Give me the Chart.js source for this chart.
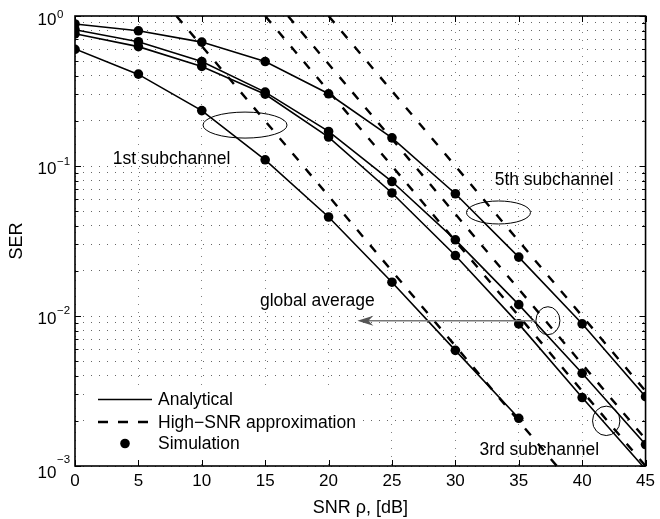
<!DOCTYPE html>
<html>
<head>
<meta charset="utf-8">
<script src="https://cdn.jsdelivr.net/npm/chart.js@4.4.1/dist/chart.umd.min.js"></script>
<style>
  html, body { margin: 0; padding: 0; background: #fff; }
  #wrap { width: 660px; height: 519px; }
</style>
</head>
<body>
<div id="wrap"><canvas id="serChart" width="660" height="519"></canvas></div>
<script>
"use strict";

// ── Data ──────────────────────────────────────────────────
const snrDb = [0, 5, 10, 15, 20, 25, 30, 35, 40, 45];

// analytical SER curves (on the 5 dB grid)
const ser1st    = [0.603, 0.408, 0.234, 0.110, 0.0457, 0.0168, 0.0059, 0.00208];
const ser3rd    = [0.761, 0.625, 0.461, 0.301, 0.156, 0.0661, 0.0253, 0.00886, 0.00286, 0.00095];
const serGlobal = [0.810, 0.674, 0.497, 0.311, 0.170, 0.0788, 0.0322, 0.0119, 0.00415, 0.00139];
const ser5th    = [0.885, 0.797, 0.670, 0.497, 0.303, 0.154, 0.0653, 0.0247, 0.00887, 0.0029];

// simulated points (only the ones inside the axes)
const sim1st    = [0.60, 0.41, 0.234, 0.110, 0.0457, 0.0168, 0.0059, 0.00208];
const sim3rd    = [0.76, 0.625, 0.461, 0.301, 0.156, 0.0661, 0.0253, 0.00886, 0.00286];
const simGlobal = [0.81, 0.674, 0.497, 0.311, 0.170, 0.0788, 0.0322, 0.0119, 0.00415, 0.00139];
const sim5th    = [0.885, 0.797, 0.670, 0.497, 0.303, 0.154, 0.0653, 0.0247, 0.00887, 0.0029];

// high-SNR approximations: straight lines, end points where they leave the axes
const approxSnr1st    = [8, 38];
const approxSer1st    = [1, 0.001];
const approxSnr3rd    = [15, 45];
const approxSer3rd    = [1, 0.001];
const approxSnrGlobal = [16.8, 45];
const approxSerGlobal = [1, 0.00151];
const approxSnr5th    = [20, 45];
const approxSer5th    = [1, 0.00316];

// ticks
const xTicks      = [0, 5, 10, 15, 20, 25, 30, 35, 40, 45];
const yMajorTicks = [0.001, 0.01, 0.1, 1];
const yExponents  = ["\u22123", "\u22122", "\u22121", "0"];
const yMinorMult  = [2, 3, 4, 5, 6, 7, 8, 9];

const legendLabels = ["Analytical", "High\u2212SNR approximation", "Simulation"];

// ── Helpers ───────────────────────────────────────────────
const FONT = "'Liberation Sans', Arial, Helvetica, sans-serif";
const pts = (xs, ys) => ys.map((v, i) => ({ x: xs[i], y: v }));

const yTickValues = [];
yMajorTicks.forEach((m, i) => {
  yTickValues.push(m);
  if (i < yMajorTicks.length - 1) yMinorMult.forEach((k) => yTickValues.push(m * k));
});

const solid = (data) => ({
  type: "line", data, label: "Analytical",
  borderColor: "#000", borderWidth: 1.6, pointRadius: 0, fill: false, tension: 0,
});
const dashed = (data) => ({
  type: "line", data, label: "High-SNR approximation",
  borderColor: "#000", borderWidth: 2.4, borderDash: [9, 11], pointRadius: 0, fill: false,
});
const dots = (data) => ({
  type: "scatter", data, label: "Simulation",
  backgroundColor: "#000", borderColor: "#000", pointRadius: 4.8, borderWidth: 0,
});

// ── Annotations (data coords for anchors, px for radii) ──
const notes = [
  { text: "1st subchannel", x: 2.97, y: 0.1034 },
  { text: "5th subchannel", x: 33.1, y: 0.0749 },
  { text: "global average", x: 14.59, y: 0.01165 },
  { text: "3rd subchannel", x: 31.9, y: 0.00118 },
];
const rings = [
  { x: 13.41, y: 0.1874, rx: 42, ry: 13 },
  { x: 33.4, y: 0.0490, rx: 32, ry: 11.5 },
  { x: 37.3, y: 0.0093, rx: 12, ry: 14 },
  { x: 41.9, y: 0.0020, rx: 13.7, ry: 14.7 },
];
const arrow = { from: 36.3, to: 22.27, y: 0.0093 };

// ── Plugins ───────────────────────────────────────────────
const frameTicks = {
  id: "frameTicks",
  afterDatasetsDraw(chart) {
    const { ctx, chartArea: a, scales: { x, y } } = chart;
    ctx.save();
    ctx.strokeStyle = "#000";
    ctx.lineWidth = 1;
    ctx.beginPath();
    x.ticks.forEach((t) => {
      const px = Math.round(x.getPixelForValue(t.value)) + 0.5;
      ctx.moveTo(px, a.bottom); ctx.lineTo(px, a.bottom - 6);
      ctx.moveTo(px, a.top);    ctx.lineTo(px, a.top + 6);
    });
    y.ticks.forEach((t) => {
      const py = Math.round(y.getPixelForValue(t.value)) + 0.5;
      const major = yMajorTicks.some((m) => Math.abs(m - t.value) < m * 1e-6);
      const len = major ? 6 : 3.5;
      ctx.moveTo(a.left, py);  ctx.lineTo(a.left + len, py);
      ctx.moveTo(a.right, py); ctx.lineTo(a.right - len, py);
    });
    ctx.stroke();
    ctx.lineWidth = 1.6;
    ctx.strokeRect(a.left, a.top, a.right - a.left, a.bottom - a.top);
    ctx.restore();
  },
};

// y labels as 10^n with a raised exponent
const tenLabels = {
  id: "tenLabels",
  afterDraw(chart) {
    const { ctx, chartArea: a, scales: { y } } = chart;
    const baseNudge = [12, 7.5, 7.5, 8.5];
    const expNudge  = [-2.7, -2.2, -0.7, 2.3];
    ctx.save();
    ctx.fillStyle = "#000";
    ctx.textAlign = "left";
    ctx.textBaseline = "alphabetic";
    yMajorTicks.forEach((v, i) => {
      const py = y.getPixelForValue(v);
      const x0 = a.left - 37.5;
      ctx.font = "17px " + FONT;
      ctx.fillText("10", x0, py + baseNudge[i]);
      const w = ctx.measureText("10").width;
      ctx.font = "11.5px " + FONT;
      ctx.fillText(yExponents[i], x0 + w + 0.5, py + expNudge[i]);
    });
    ctx.restore();
  },
};

const notesPlugin = {
  id: "notes",
  afterDraw(chart) {
    const { ctx, chartArea: a, scales: { x, y } } = chart;
    ctx.save();
    ctx.fillStyle = "#000";
    ctx.strokeStyle = "#000";
    ctx.font = "17.5px " + FONT;
    ctx.textAlign = "left";
    ctx.textBaseline = "alphabetic";
    notes.forEach((n) => ctx.fillText(n.text, x.getPixelForValue(n.x), y.getPixelForValue(n.y)));

    ctx.lineWidth = 1;
    rings.forEach((r) => {
      ctx.beginPath();
      ctx.ellipse(x.getPixelForValue(r.x), y.getPixelForValue(r.y), r.rx, r.ry, 0, 0, Math.PI * 2);
      ctx.stroke();
    });

    // arrow to the global average
    const ay = y.getPixelForValue(arrow.y);
    const x1 = x.getPixelForValue(arrow.from);
    const x2 = x.getPixelForValue(arrow.to);
    ctx.strokeStyle = "#777";
    ctx.fillStyle = "#555";
    ctx.lineWidth = 1.6;
    ctx.beginPath(); ctx.moveTo(x1, ay); ctx.lineTo(x2 + 8, ay); ctx.stroke();
    ctx.beginPath();
    ctx.moveTo(x2, ay);
    ctx.lineTo(x2 + 16, ay - 5);
    ctx.lineTo(x2 + 11, ay);
    ctx.lineTo(x2 + 16, ay + 5);
    ctx.closePath();
    ctx.fill();

    // legend box in the lower-left corner
    const lx = a.left + 9, ly = a.bottom - 79;
    ctx.fillStyle = "#fff";
    ctx.fillRect(lx, ly, 274, 70);
    ctx.strokeStyle = "#000";
    ctx.fillStyle = "#000";
    const rowY = [ly + 12.5, ly + 35, ly + 56.5];
    ctx.lineWidth = 1.6;
    ctx.beginPath(); ctx.moveTo(lx + 14, rowY[0]); ctx.lineTo(lx + 68, rowY[0]); ctx.stroke();
    ctx.lineWidth = 2.4;
    ctx.setLineDash([10, 10]);
    ctx.beginPath(); ctx.moveTo(lx + 14, rowY[1]); ctx.lineTo(lx + 68, rowY[1]); ctx.stroke();
    ctx.setLineDash([]);
    ctx.beginPath(); ctx.arc(lx + 41, rowY[2], 4.8, 0, Math.PI * 2); ctx.fill();
    ctx.textBaseline = "middle";
    legendLabels.forEach((t, i) => ctx.fillText(t, lx + 74, rowY[i] + 1));
    ctx.restore();
  },
};

// ── Chart ─────────────────────────────────────────────────
new Chart(document.getElementById("serChart").getContext("2d"), {
  data: {
    datasets: [
      dashed(pts(approxSnr1st, approxSer1st)),
      dashed(pts(approxSnr3rd, approxSer3rd)),
      dashed(pts(approxSnrGlobal, approxSerGlobal)),
      dashed(pts(approxSnr5th, approxSer5th)),
      solid(pts(snrDb, ser1st)),
      solid(pts(snrDb, ser3rd)),
      solid(pts(snrDb, serGlobal)),
      solid(pts(snrDb, ser5th)),
      dots(pts(snrDb, sim1st)),
      dots(pts(snrDb, sim3rd)),
      dots(pts(snrDb, simGlobal)),
      dots(pts(snrDb, sim5th)),
    ],
  },
  options: {
    responsive: false,
    animation: false,
    events: [],
    layout: { padding: { left: 0, top: 16, right: 9, bottom: 0 } },
    plugins: { legend: { display: false }, tooltip: { enabled: false } },
    scales: {
      x: {
        type: "linear",
        min: 0, max: 45,
        afterBuildTicks: (s) => { s.ticks = xTicks.map((v) => ({ value: v })); },
        grid: { color: "rgba(0,0,0,0.5)", lineWidth: 1, drawTicks: false },
        border: { display: false, dash: [1, 7] },
        ticks: { color: "#000", padding: 5, font: { family: FONT, size: 17 }, maxRotation: 0 },
        title: {
          display: true, text: "SNR \u03c1, [dB]", color: "#000",
          font: { family: FONT, size: 18 }, padding: { top: 1, bottom: 0 },
        },
      },
      y: {
        type: "logarithmic",
        min: 0.001, max: 1,
        afterBuildTicks: (s) => { s.ticks = yTickValues.map((v) => ({ value: v })); },
        grid: { color: "rgba(0,0,0,0.6)", lineWidth: 1, drawTicks: false },
        border: { display: false, dash: [1, 7] },
        ticks: { display: false },
        title: {
          display: true, text: "SER", color: "#000",
          font: { family: FONT, size: 18 }, padding: { top: 6.2, bottom: 47.2 },
        },
      },
    },
  },
  plugins: [frameTicks, tenLabels, notesPlugin],
});
</script>
</body>
</html>
